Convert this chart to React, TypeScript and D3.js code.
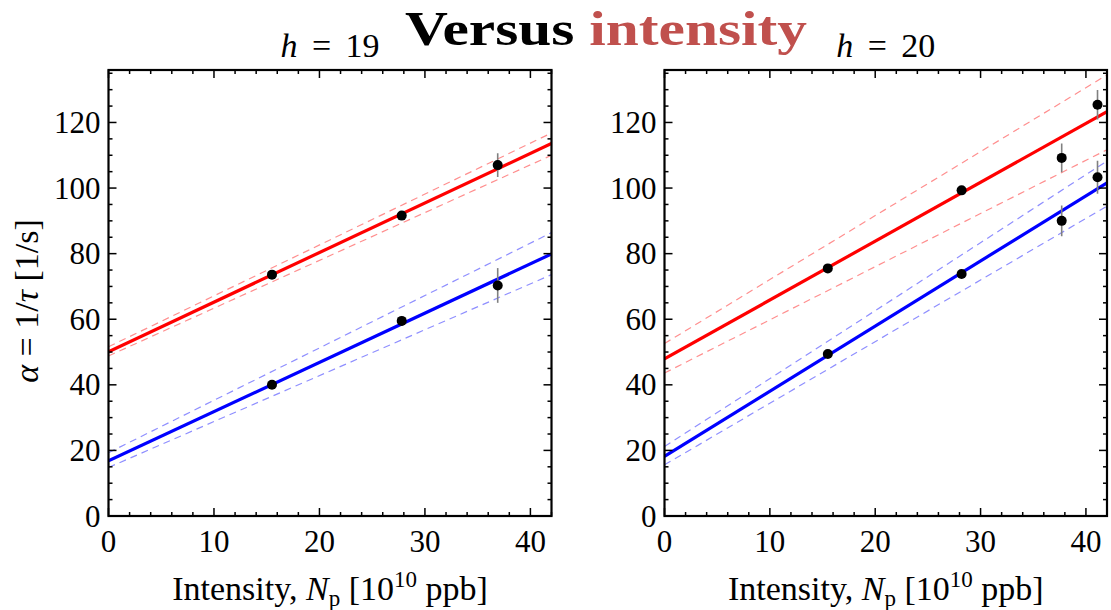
import React from "react";
import * as d3 from "d3";

// Intensity axis and decay-rate axis ranges
const X_MAX = 42;
const Y_MAX = 136;
const xMajorTicks = [0, 10, 20, 30, 40];
const yMajorTicks = [0, 20, 40, 60, 80, 100, 120];

// h = 19 measurements
const intensityH19 = [15.5, 27.8, 36.9];
const redH19 = [73.6, 91.6, 107.0];
const redErrH19 = [0.8, 1.2, 3.6];
const blueH19 = [40.0, 59.5, 70.3];
const blueErrH19 = [0.8, 1.5, 5.3];

// h = 20 measurements
const intensityH20 = [15.5, 28.2, 37.7, 41.1];
const redH20 = [75.5, 99.3, 109.2, 125.4];
const redErrH20 = [0.8, 1.0, 4.4, 4.5];
const blueH20 = [49.4, 73.8, 90.0, 103.3];
const blueErrH20 = [0.8, 1.0, 4.7, 5.0];

// Linear fits: values at N = 0 and N = 42 (fit, upper band, lower band)
const fitRedH19 = [50.1, 113.6];
const bandRedH19Upper = [51.6, 116.8];
const bandRedH19Lower = [48.8, 110.0];
const fitBlueH19 = [16.8, 79.9];
const bandBlueH19Upper = [19.3, 86.4];
const bandBlueH19Lower = [14.8, 73.6];

const fitRedH20 = [47.9, 123.3];
const bandRedH20Upper = [52.6, 134.5];
const bandRedH20Lower = [43.6, 111.7];
const fitBlueH20 = [18.2, 101.6];
const bandBlueH20Upper = [21.2, 108.2];
const bandBlueH20Lower = [15.6, 94.5];

const RED = "#ff0000";
const BLUE = "#0000ff";
const RED_LIGHT = "#ff8f8f";
const BLUE_LIGHT = "#8f8fff";
const SERIF = "'Liberation Serif', 'Times New Roman', serif";

type Series = { xs: number[]; ys: number[]; errs: number[] };
type Line = { vals: number[]; color: string; width: number; dash?: string };

type PanelProps = {
  id: string;
  x0: number;
  x1: number;
  h: number;
  series: Series[];
  lines: Line[];
  showYLabel: boolean;
};

const TOP = 70;
const BOTTOM = 516;

function Panel({ id, x0, x1, h, series, lines, showYLabel }: PanelProps) {
  const x = d3.scaleLinear().domain([0, X_MAX]).range([x0, x1]);
  const y = d3.scaleLinear().domain([0, Y_MAX]).range([BOTTOM, TOP]);
  const xMinor = d3.range(0, X_MAX + 0.001, 2).filter((v) => v % 10 !== 0);
  const yMinor = d3.range(0, Y_MAX + 0.001, 5).filter((v) => v % 20 !== 0);
  const lineGen = d3
    .line<number>()
    .x((_, i) => x(i === 0 ? 0 : X_MAX))
    .y((v) => y(v));
  const cx = (x0 + x1) / 2;
  const MAJ = 8;
  const MIN = 4;

  return (
    <g>
      <defs>
        <clipPath id={`clip-${id}`}>
          <rect x={x0} y={TOP} width={x1 - x0} height={BOTTOM - TOP} />
        </clipPath>
      </defs>

      <g clipPath={`url(#clip-${id})`}>
        {lines.map((l, i) => (
          <path
            key={i}
            d={lineGen(l.vals) || ""}
            fill="none"
            stroke={l.color}
            strokeWidth={l.width}
            strokeDasharray={l.dash}
          />
        ))}
        {series.map((s, si) =>
          s.xs.map((xv, i) => (
            <g key={`${si}-${i}`}>
              <line
                x1={x(xv)}
                x2={x(xv)}
                y1={y(s.ys[i] - s.errs[i])}
                y2={y(s.ys[i] + s.errs[i])}
                stroke="#808080"
                strokeWidth={1.6}
              />
              <circle cx={x(xv)} cy={y(s.ys[i])} r={5} fill="#000" />
            </g>
          ))
        )}
      </g>

      {/* ticks on all four sides, pointing inward */}
      <g stroke="#000" strokeWidth={1.5}>
        {xMajorTicks.map((v) => (
          <g key={`xm${v}`}>
            <line x1={x(v)} x2={x(v)} y1={BOTTOM} y2={BOTTOM - MAJ} />
            <line x1={x(v)} x2={x(v)} y1={TOP} y2={TOP + MAJ} />
          </g>
        ))}
        {xMinor.map((v) => (
          <g key={`xn${v}`}>
            <line x1={x(v)} x2={x(v)} y1={BOTTOM} y2={BOTTOM - MIN} />
            <line x1={x(v)} x2={x(v)} y1={TOP} y2={TOP + MIN} />
          </g>
        ))}
        {yMajorTicks.map((v) => (
          <g key={`ym${v}`}>
            <line x1={x0} x2={x0 + MAJ} y1={y(v)} y2={y(v)} />
            <line x1={x1} x2={x1 - MAJ} y1={y(v)} y2={y(v)} />
          </g>
        ))}
        {yMinor.map((v) => (
          <g key={`yn${v}`}>
            <line x1={x0} x2={x0 + MIN} y1={y(v)} y2={y(v)} />
            <line x1={x1} x2={x1 - MIN} y1={y(v)} y2={y(v)} />
          </g>
        ))}
      </g>

      <rect
        x={x0}
        y={TOP}
        width={x1 - x0}
        height={BOTTOM - TOP}
        fill="none"
        stroke="#000"
        strokeWidth={2.2}
      />

      {/* tick labels */}
      <g fontFamily={SERIF} fontSize={31} fill="#000">
        {xMajorTicks.map((v) => (
          <text key={`xl${v}`} x={x(v)} y={552} textAnchor="middle">
            {v}
          </text>
        ))}
        {yMajorTicks.map((v) => (
          <text
            key={`yl${v}`}
            x={x0 - 8}
            y={y(v)}
            dy="0.34em"
            textAnchor="end"
          >
            {v}
          </text>
        ))}
      </g>

      {/* panel title */}
      <text
        x={cx}
        y={57}
        textAnchor="middle"
        fontFamily={SERIF}
        fontSize={34}
        fill="#000"
      >
        <tspan fontStyle="italic">h</tspan>
        <tspan dx={6}> = </tspan>
        <tspan dx={6}>{h}</tspan>
      </text>

      {/* x-axis title */}
      <text
        x={cx}
        y={600}
        textAnchor="middle"
        fontFamily={SERIF}
        fontSize={34}
        fill="#000"
      >
        <tspan>Intensity, </tspan>
        <tspan fontStyle="italic">N</tspan>
        <tspan fontSize={23} dy={6}>p</tspan>
        <tspan dy={-6}> [10</tspan>
        <tspan fontSize={23} dy={-13}>10</tspan>
        <tspan dy={13}> ppb]</tspan>
      </text>

      {showYLabel && (
        <text
          transform={`translate(38, ${(TOP + BOTTOM) / 2 + 8}) rotate(-90)`}
          textAnchor="middle"
          fontFamily={SERIF}
          fontSize={34}
          fill="#000"
        >
          <tspan fontStyle="italic">α</tspan>
          <tspan> = 1/</tspan>
          <tspan fontStyle="italic">τ</tspan>
          <tspan> [1/s]</tspan>
        </text>
      )}
    </g>
  );
}

const DASH = "7,5";

export default function App() {
  const leftLines: Line[] = [
    { vals: bandRedH19Upper, color: RED_LIGHT, width: 1.2, dash: DASH },
    { vals: bandRedH19Lower, color: RED_LIGHT, width: 1.2, dash: DASH },
    { vals: bandBlueH19Upper, color: BLUE_LIGHT, width: 1.2, dash: DASH },
    { vals: bandBlueH19Lower, color: BLUE_LIGHT, width: 1.2, dash: DASH },
    { vals: fitRedH19, color: RED, width: 3.2 },
    { vals: fitBlueH19, color: BLUE, width: 3.2 },
  ];
  const rightLines: Line[] = [
    { vals: bandRedH20Upper, color: RED_LIGHT, width: 1.2, dash: DASH },
    { vals: bandRedH20Lower, color: RED_LIGHT, width: 1.2, dash: DASH },
    { vals: bandBlueH20Upper, color: BLUE_LIGHT, width: 1.2, dash: DASH },
    { vals: bandBlueH20Lower, color: BLUE_LIGHT, width: 1.2, dash: DASH },
    { vals: fitRedH20, color: RED, width: 3.2 },
    { vals: fitBlueH20, color: BLUE, width: 3.2 },
  ];

  return (
    <svg
      width={1111}
      height={610}
      style={{ position: "absolute", left: 0, top: 0, background: "#fff" }}
    >
      <rect width={1111} height={610} fill="#fff" />
      <Panel
        id="h19"
        x0={108.5}
        x1={551.5}
        h={19}
        series={[
          { xs: intensityH19, ys: redH19, errs: redErrH19 },
          { xs: intensityH19, ys: blueH19, errs: blueErrH19 },
        ]}
        lines={leftLines}
        showYLabel={true}
      />
      <Panel
        id="h20"
        x0={664.5}
        x1={1107}
        h={20}
        series={[
          { xs: intensityH20, ys: redH20, errs: redErrH20 },
          { xs: intensityH20, ys: blueH20, errs: blueErrH20 },
        ]}
        lines={rightLines}
        showYLabel={false}
      />
      <text
        x={606}
        y={45}
        textAnchor="middle"
        fontFamily={SERIF}
        fontWeight="bold"
        fontSize={48}
        textLength={402}
        lengthAdjust="spacingAndGlyphs"
      >
        <tspan fill="#000">Versus </tspan>
        <tspan fill="#c0504d">intensity</tspan>
      </text>
    </svg>
  );
}
